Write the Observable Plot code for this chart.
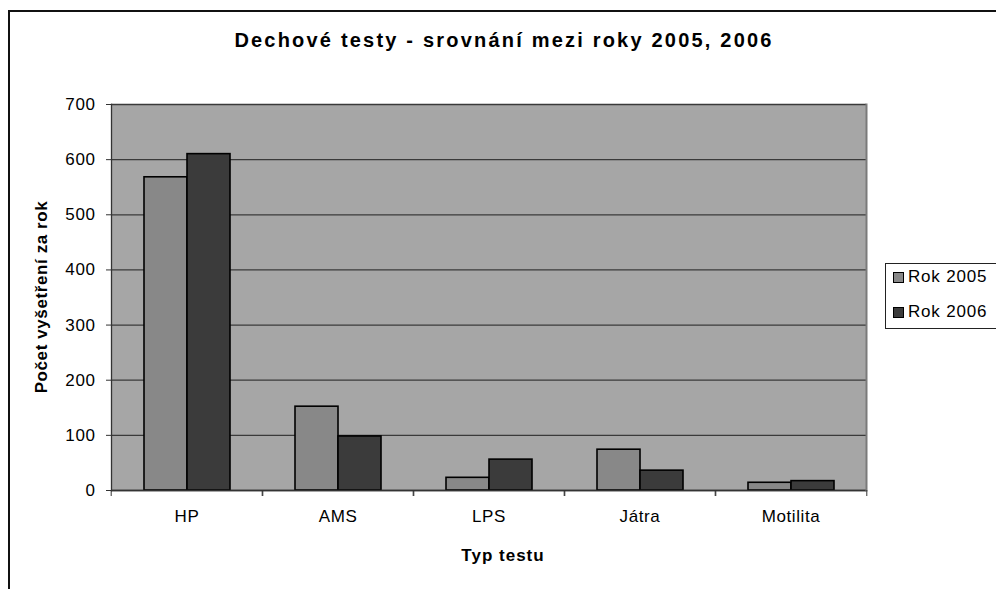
<!DOCTYPE html>
<html>
<head>
<meta charset="utf-8">
<script src="https://cdn.jsdelivr.net/npm/d3@7"></script>
<script src="https://cdn.jsdelivr.net/npm/@observablehq/plot@0.6"></script>
<style>
  html, body { margin: 0; padding: 0; background: #fff; }
  #root { position: relative; width: 996px; height: 589px; overflow: hidden; font-family: "Liberation Sans", Arial, sans-serif; color: #000; }
  #border { position: absolute; left: 8px; top: 10px; width: 1100px; height: 700px; border-left: 2px solid #111; border-top: 2px solid #111; box-sizing: border-box; }
  #title { position: absolute; left: 0; width: 1008px; top: 29px; text-align: center; font-size: 20px; font-weight: bold; letter-spacing: 2.2px; }
  #ytitle { position: absolute; left: 42px; top: 297px; transform: translate(-50%, -50%) rotate(-90deg); white-space: nowrap; font-size: 17px; font-weight: bold; letter-spacing: 0.6px; }
  #xtitle { position: absolute; left: 503px; top: 556px; transform: translate(-50%, -50%); white-space: nowrap; font-size: 17px; font-weight: bold; letter-spacing: 1px; }
  #chart { position: absolute; left: 0; top: 0; }
  #legend { position: absolute; left: 885px; top: 263px; width: 200px; height: 66px; border: 1px solid #222; box-sizing: border-box; background: #fff; }
  .item { position: absolute; left: 7px; display: flex; align-items: center; font-size: 17px; letter-spacing: 0.8px; white-space: nowrap; }
  .sw { width: 9px; height: 9px; border: 1px solid #000; margin-right: 4px; }
  #chart svg text { letter-spacing: 0.6px; }
</style>
</head>
<body>
<div id="root">
  <div id="border"></div>
  <div id="chart"></div>
  <div id="title"></div>
  <div id="ytitle"></div>
  <div id="xtitle"></div>
  <div id="legend"></div>
</div>
<script>
const titleText = "Dechové testy - srovnání mezi roky 2005, 2006";
const yTitle = "Počet vyšetření za rok";
const xTitle = "Typ testu";
const categories = ["HP", "AMS", "LPS", "Játra", "Motilita"];
const series = ["Rok 2005", "Rok 2006"];
const values2005 = [568, 152, 23, 74, 14];
const values2006 = [610, 98, 56, 36, 17];
const yTicks = [0, 100, 200, 300, 400, 500, 600, 700];
const seriesColors = ["#888888", "#3b3b3b"];

const data = [];
categories.forEach((c, i) => {
  data.push({cat: c, year: series[0], value: values2005[i]});
  data.push({cat: c, year: series[1], value: values2006[i]});
});

const W = 996, H = 589, mL = 109, mR = 129, mT = 104, mB = 99;
const step = (W - mL - mR) / categories.length;

const chart = Plot.plot({
  width: W, height: H,
  marginLeft: mL, marginRight: mR, marginTop: mT, marginBottom: mB,
  style: {background: "transparent", fontFamily: "'Liberation Sans', Arial, sans-serif", fontSize: "17px", color: "#000", overflow: "visible"},
  fx: {domain: categories, padding: 0, label: null, axis: null},
  x: {domain: series, paddingInner: 0, paddingOuter: 0.72, axis: null},
  y: {domain: [0, 700], label: null, axis: null},
  color: {domain: series, range: seriesColors},
  marks: [
    Plot.frame({fill: "#a6a6a6", stroke: null, shapeRendering: "crispEdges", insetLeft: -0.5, insetRight: -0.5}),
    Plot.gridY(yTicks, {stroke: "#3a3a3a", strokeOpacity: 1, strokeWidth: 1.3}),
    Plot.barY(data, {fx: "cat", x: "year", y: "value", fill: "year", stroke: "#000", strokeWidth: 1.6}),
    Plot.ruleY([0], {stroke: "#333", strokeWidth: 1.3}),
    Plot.frame({anchor: "left", facetAnchor: "left", stroke: "#333", strokeWidth: 1.3}),
    Plot.frame({anchor: "right", facetAnchor: "right", stroke: "#7a7a7a", strokeWidth: 2}),
    Plot.axisY(yTicks, {anchor: "left", tickSize: 5, tickPadding: 11, label: null, stroke: "#333", fill: "#000"}),
    Plot.axisFx({anchor: "bottom", tickSize: 0, tickPadding: 19, label: null, fill: "#000"}),
    Plot.axisFx({anchor: "bottom", tickSize: 6, tickFormat: () => "", label: null, dx: -step / 2, stroke: "#333"}),
    Plot.axisFx([categories[categories.length - 1]], {anchor: "bottom", tickSize: 6, tickFormat: () => "", label: null, dx: step / 2, stroke: "#333"})
  ]
});
document.getElementById("chart").appendChild(chart);

document.getElementById("title").textContent = titleText;
document.getElementById("ytitle").textContent = yTitle;
document.getElementById("xtitle").textContent = xTitle;

const legend = document.getElementById("legend");
series.forEach((s, i) => {
  const it = document.createElement("div");
  it.className = "item";
  it.style.top = (i === 0 ? 3 : 38) + "px";
  const sw = document.createElement("div");
  sw.className = "sw";
  sw.style.background = seriesColors[i];
  const t = document.createElement("span");
  t.textContent = s;
  it.appendChild(sw); it.appendChild(t);
  legend.appendChild(it);
});
</script>
</body>
</html>
